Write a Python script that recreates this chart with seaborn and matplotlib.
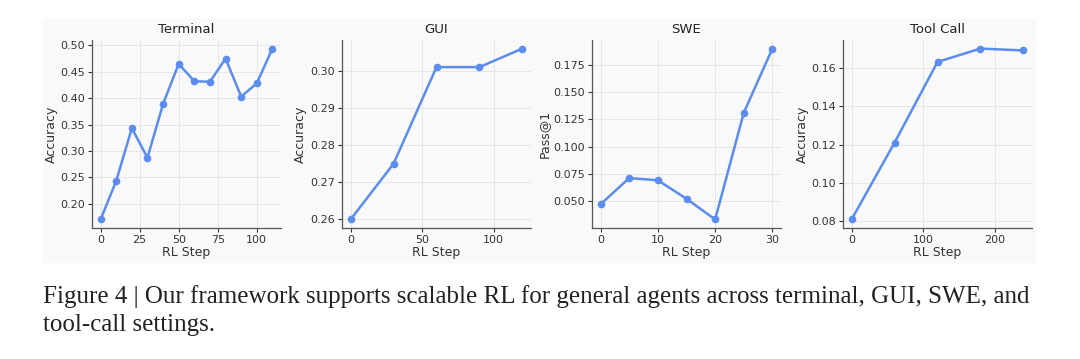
import matplotlib
matplotlib.use("Agg")
import matplotlib.pyplot as plt
from matplotlib.ticker import MultipleLocator
from matplotlib.patches import Rectangle
import seaborn as sns
import pandas as pd

# ---- data ----
terminal_steps = [0, 10, 20, 30, 40, 50, 60, 70, 80, 90, 100, 110]
terminal_acc = [0.170, 0.243, 0.343, 0.287, 0.389, 0.465, 0.432, 0.431, 0.475, 0.403, 0.428, 0.494]

gui_steps = [0, 30, 60, 90, 120]
gui_acc = [0.260, 0.275, 0.301, 0.301, 0.306]

swe_steps = [0, 5, 10, 15, 20, 25, 30]
swe_pass = [0.047, 0.071, 0.069, 0.052, 0.033, 0.131, 0.190]

tool_steps = [0, 60, 120, 180, 240]
tool_acc = [0.081, 0.121, 0.163, 0.170, 0.169]

titles = ["Terminal", "GUI", "SWE", "Tool Call"]
ylabels = ["Accuracy", "Accuracy", "Pass@1", "Accuracy"]
xlabel = "RL Step"
caption_lines = ["Figure 4 | Our framework supports scalable RL for general agents across terminal, GUI, SWE, and",
                 "tool-call settings."]

panels = [(terminal_steps, terminal_acc), (gui_steps, gui_acc),
          (swe_steps, swe_pass), (tool_steps, tool_acc)]
ysteps = [0.05, 0.01, 0.025, 0.02]

sns.set_theme(style="whitegrid")
plt.rcParams['font.family'] = ['DejaVu Sans']

W, H = 1080, 359
fig = plt.figure(figsize=(W / 100, H / 100), dpi=100, facecolor="white")

bg = "#f9f9f9"
fig.patches.append(Rectangle((43 / W, 1 - 263 / H), (1036 - 43) / W, 245 / H,
                             transform=fig.transFigure, facecolor=bg,
                             edgecolor="none", zorder=-5))

lefts = [92, 342, 592, 843]
aw, top, bottom = 189, 40, 228
color = "#5b8def"

for i, (xs, ys) in enumerate(panels):
    ax = fig.add_axes([lefts[i] / W, 1 - bottom / H, aw / W, (bottom - top) / H])
    ax.set_zorder(2)
    ax.set_facecolor(bg)
    df = pd.DataFrame({"step": xs, "val": ys})
    sns.lineplot(data=df, x="step", y="val", ax=ax, color=color, marker="o",
                 markersize=5.5, linewidth=1.8, markeredgewidth=0)
    ax.set_title(titles[i], fontsize=9.5, color="#222222", pad=5)
    ax.set_xlabel(xlabel, fontsize=9, color="#333333", labelpad=1)
    ax.set_ylabel(ylabels[i], fontsize=9, color="#333333", labelpad=2)
    ax.yaxis.set_major_locator(MultipleLocator(ysteps[i]))
    ax.grid(True, color="#e6e6e6", linewidth=0.7)
    ax.tick_params(axis="both", labelsize=8, colors="#333333", length=3,
                   width=0.8, pad=2, left=True, bottom=True)
    for s in ["top", "right"]:
        ax.spines[s].set_visible(False)
    for s in ["left", "bottom"]:
        ax.spines[s].set_color("#555555")
        ax.spines[s].set_linewidth(0.9)

cap_y = [297, 325]
for line, y in zip(caption_lines, cap_y):
    fig.text(43 / W, 1 - y / H, line, family=["Liberation Serif", "DejaVu Serif"],
             fontsize=18, color="#222222", va="center", ha="left")

fig.savefig("out.png", dpi=100, facecolor="white")
